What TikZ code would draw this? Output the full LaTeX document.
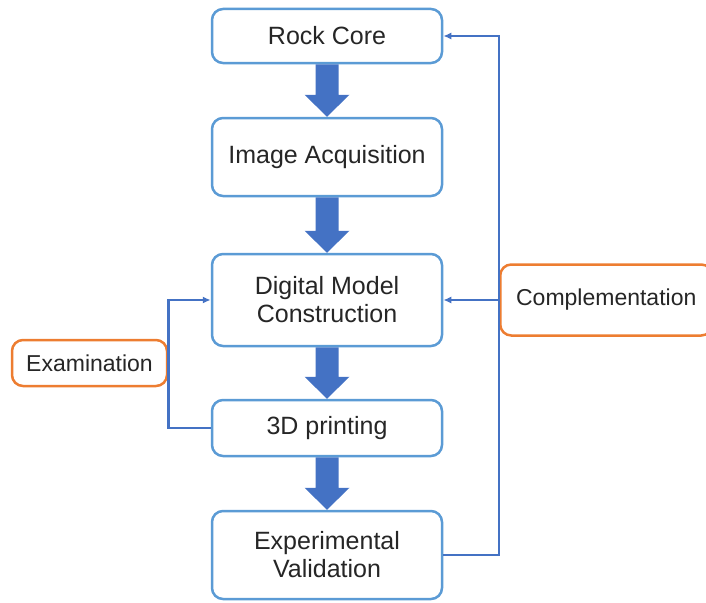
\documentclass[tikz,border=0pt]{standalone}
\usepackage{fontspec}
\setmainfont{Liberation Sans}
\usetikzlibrary{arrows.meta,calc}
\definecolor{boxblue}{HTML}{5B9BD5}
\definecolor{linkblue}{HTML}{4472C4}
\definecolor{orng}{HTML}{ED7D31}
\tikzset{
  stepbox/.style={draw=boxblue, line width=2.5pt, rounded corners=11pt, fill=white,
    minimum width=230pt, align=center, inner sep=0pt,
    font=\fontsize{25}{28}\selectfont, text=black!85},
  sidebox/.style={draw=orng, line width=2.5pt, rounded corners=11pt, fill=white,
    align=center, inner sep=0pt, font=\fontsize{23}{27}\selectfont, text=black!85},
  conn/.style={draw=linkblue, line width=2.6pt},
  tip/.style={-{Latex[length=8pt,width=7pt]}}
}
\newcommand{\fatarrow}[2]{%
  \fill[linkblue] ($(#1.south)+(-11.5,0)$) -- ($(#2.north)+(-11.5,-22)$)
    -- ($(#2.north)+(-22.5,-22)$) -- (#2.north) -- ($(#2.north)+(22.5,-22)$)
    -- ($(#2.north)+(11.5,-22)$) -- ($(#1.south)+(11.5,0)$) -- cycle;}
\begin{document}
\begin{tikzpicture}[x=1pt,y=-1pt]
\useasboundingbox (0,0) rectangle (706,602);
\node[stepbox, minimum height=54pt] (rc) at (327,36) {Rock Core};
\node[stepbox, minimum height=78pt] (ia) at (327,157) {Image Acquisition};
\node[stepbox, minimum height=92pt] (dmc) at (327,300) {Digital Model\\Construction};
\node[stepbox, minimum height=56pt] (p3d) at (327,428) {3D printing};
\node[stepbox, minimum height=88pt] (ev) at (327,555) {Experimental\\Validation};
\node[sidebox, minimum width=155pt, minimum height=46pt] (exam) at (89.5,363) {Examination};
\node[sidebox, minimum width=212pt, minimum height=71pt, anchor=west] (comp) at (499,300) {Complementation};
\fatarrow{rc}{ia}
\fatarrow{ia}{dmc}
\fatarrow{dmc}{p3d}
\fatarrow{p3d}{ev}
\draw[conn, tip] (p3d.west) -| (exam.east) |- (dmc.west);
\draw[conn, tip] (ev.east) -| (comp.west) |- (rc.east);
\draw[conn, tip] (comp.west) -- (dmc.east);
\end{tikzpicture}
\end{document}
